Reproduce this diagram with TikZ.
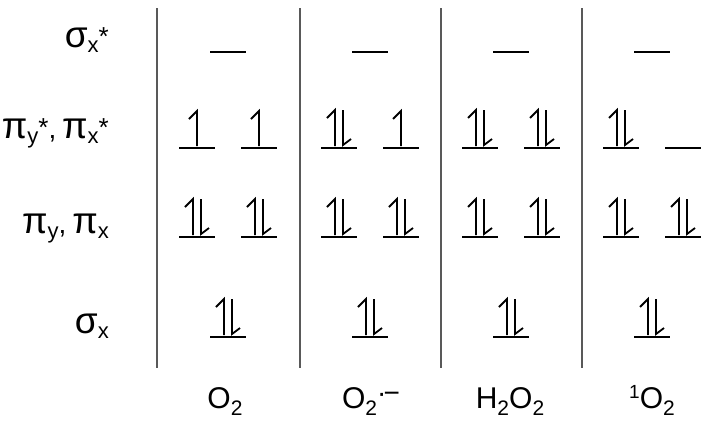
\documentclass[tikz,border=0pt]{standalone}
\usepackage{fontspec}
\setmainfont{Liberation Sans}
\usepackage{tikz}
\usetikzlibrary{positioning}

\newcommand{\gk}[1]{{\fontsize{37}{37}\selectfont #1}}
\newcommand{\sbx}[1]{\raisebox{-5pt}{\fontsize{22}{22}\selectfont #1}}
\newcommand{\sbn}[1]{\raisebox{-7pt}{\fontsize{21}{21}\selectfont #1}}
\newcommand{\spn}[1]{\raisebox{10pt}{\fontsize{19}{19}\selectfont #1}}
\newcommand{\st}{\raisebox{2pt}{\fontsize{26}{26}\selectfont *}}

% x, y, number of electrons
\newcommand{\orblevel}[3]{%
    \draw[levelline] (#1-18,#2) -- (#1+18,#2);
    \ifcase#3
    \or
        \draw[spin] (#1,#2-2) -- (#1,#2-37) -- (#1-8,#2-29);
    \or
        \draw[spin] (#1-4,#2-2) -- (#1-4,#2-38) -- (#1-12,#2-30);
        \draw[spin] (#1+4,#2-38) -- (#1+4,#2-3) -- (#1+12,#2-9);
    \fi}

\begin{document}
\begin{tikzpicture}[
    x=1pt, y=-1pt,
    rowlabel/.style={anchor=base east, inner sep=0pt, font=\fontsize{28}{30}\selectfont},
    species/.style={anchor=base, inner sep=0pt, font=\fontsize{30}{32}\selectfont},
    divider/.style={line width=2pt, draw=black!65},
    levelline/.style={line width=2.2pt},
    spin/.style={line width=1.8pt, line join=miter}
]
    \useasboundingbox (0,0) rectangle (712,421);

    % row labels
    \node[rowlabel] (sigstar) at (109,47) {\gk{σ}\sbx{x}\st};
    \node[rowlabel] (pistar) at (109,138) {\gk{π}\sbx{y}\st,\hspace{-2pt} \gk{π}\sbx{x}\st};
    \node[rowlabel] (pi) at (109,233) {\gk{π}\sbx{y},\hspace{-2pt} \gk{π}\sbx{x}};
    \node[rowlabel] (sig) at (109,333) {\gk{σ}\sbx{x}};

    % dividers
    \draw[divider] (157,8) -- (157,368);
    \draw[divider] (300,8) -- (300,368);
    \draw[divider] (441,8) -- (441,368);
    \draw[divider] (582,8) -- (582,368);

    % O2
    \orblevel{228}{52}{0}
    \orblevel{197}{148}{1}
    \orblevel{259}{148}{1}
    \orblevel{197}{237}{2}
    \orblevel{259}{237}{2}
    \orblevel{228}{337}{2}

    % superoxide
    \orblevel{370}{52}{0}
    \orblevel{339}{148}{2}
    \orblevel{401}{148}{1}
    \orblevel{339}{237}{2}
    \orblevel{401}{237}{2}
    \orblevel{370}{337}{2}

    % H2O2
    \orblevel{511}{52}{0}
    \orblevel{480}{148}{2}
    \orblevel{542}{148}{2}
    \orblevel{480}{237}{2}
    \orblevel{542}{237}{2}
    \orblevel{511}{337}{2}

    % singlet O2
    \orblevel{652}{52}{0}
    \orblevel{621}{148}{2}
    \orblevel{683}{148}{0}
    \orblevel{621}{237}{2}
    \orblevel{683}{237}{2}
    \orblevel{652}{337}{2}

    % species
    \node[species] (dioxygen) at (225,408) {O\sbn{2}};
    \node[species] (superoxide) at (371,408) {O\sbn{2}\raisebox{6pt}{\fontsize{28}{28}\selectfont·\hspace{-3pt}−}};
    \node[species] (peroxide) at (510,408) {H\sbn{2}O\sbn{2}};
    \node[species] (singlet) at (652,408) {\spn{1}O\sbn{2}};
\end{tikzpicture}
\end{document}
